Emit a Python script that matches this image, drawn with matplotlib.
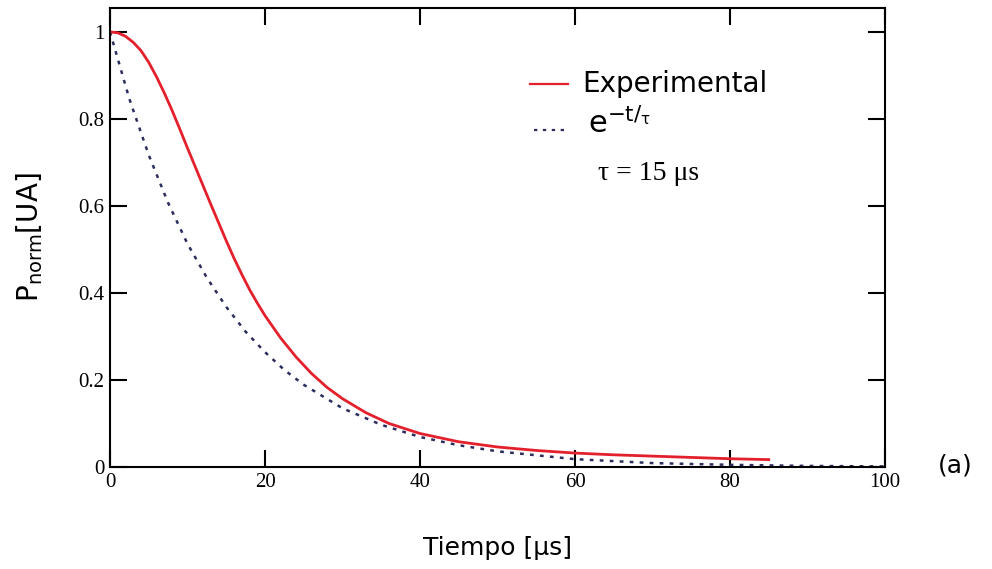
import numpy as np
import matplotlib.pyplot as plt
from matplotlib.lines import Line2D

# curva experimental
t_exp = [0, 1, 2, 3, 4, 5, 6, 7, 8, 9, 10, 11, 12, 13, 14, 15, 16, 17, 18, 19,
         20, 22, 24, 26, 28, 30, 33, 36, 40, 45, 50, 55, 60, 65, 70, 75, 80, 85]
p_exp = [1.0, 0.998, 0.99, 0.976, 0.957, 0.93, 0.897, 0.86, 0.82, 0.777,
         0.733, 0.69, 0.647, 0.604, 0.562, 0.52, 0.48, 0.443, 0.408, 0.377,
         0.348, 0.297, 0.253, 0.215, 0.183, 0.157, 0.125, 0.1, 0.077, 0.058,
         0.046, 0.038, 0.032, 0.028, 0.025, 0.022, 0.019, 0.017]

# ajuste exponencial e^(-t/tau), tau = 15 us
t_fit = [0, 2.5, 5, 7.5, 10, 12.5, 15, 17.5, 20, 22.5, 25, 30, 35, 40, 45, 50,
         60, 70, 80, 90, 100]
p_fit = [1.0, 0.846, 0.717, 0.607, 0.513, 0.435, 0.368, 0.311, 0.264, 0.223,
         0.189, 0.135, 0.097, 0.069, 0.05, 0.036, 0.018, 0.009, 0.005, 0.0025,
         0.0013]

x_ticks = [0, 20, 40, 60, 80, 100]
y_ticks = [0, 0.2, 0.4, 0.6, 0.8, 1.0]
y_ticklabels = ['0', '0.2', '0.4', '0.6', '0.8', '1']

red = '#e3202c'
navy = '#2b2d5c'

fig = plt.figure(figsize=(9.92, 5.69), dpi=100)
ax = fig.add_axes([110/992, 1 - 467/569, 775/992, 459/569])

ax.plot(t_fit, p_fit, color=navy, lw=1.8, linestyle=(0, (1.5, 2.5)))
ax.plot(t_exp, p_exp, color=red, lw=2.0)

ax.set_xlim(0, 100)
ax.set_ylim(0, 1.055)
ax.set_xticks(x_ticks)
ax.set_xticklabels([str(v) for v in x_ticks])
ax.set_yticks(y_ticks)
ax.set_yticklabels(y_ticklabels)
ax.tick_params(direction='in', length=12, width=1.5, top=True, right=True,
               labelsize=15, pad=4)
for lab in ax.get_xticklabels() + ax.get_yticklabels():
    lab.set_family('Liberation Serif')
for sp in ax.spines.values():
    sp.set_linewidth(1.5)

ax.set_xlabel('Tiempo [μs]', fontsize=18, family='DejaVu Sans', labelpad=32)
ax.set_ylabel(r'P$_{\mathregular{norm}}$[UA]', fontsize=20, family='DejaVu Sans',
              labelpad=24)

# leyenda manual
ax.add_line(Line2D([420/775*100, 458/775*100], [0.88, 0.88], color=red, lw=1.6))
ax.text(472/775*100, 0.88, 'Experimental', fontsize=20, family='DejaVu Sans',
        va='center')
ax.add_line(Line2D([424/775*100, 456/775*100], [0.775, 0.775], color=navy, lw=1.6,
                   linestyle=(0, (1.5, 2.5))))
ax.text(478/775*100, 0.79, r'$\mathregular{e^{-t/_\tau}}$', fontsize=22,
        family='DejaVu Sans', va='center')
ax.text(488/775*100, 0.675, 'τ = 15 μs', fontsize=20, family='Liberation Serif',
        va='center')

fig.text(955/992, 1 - 465/569, '(a)', fontsize=18, family='DejaVu Sans',
         ha='center', va='center')

fig.savefig('out.png', dpi=100)
